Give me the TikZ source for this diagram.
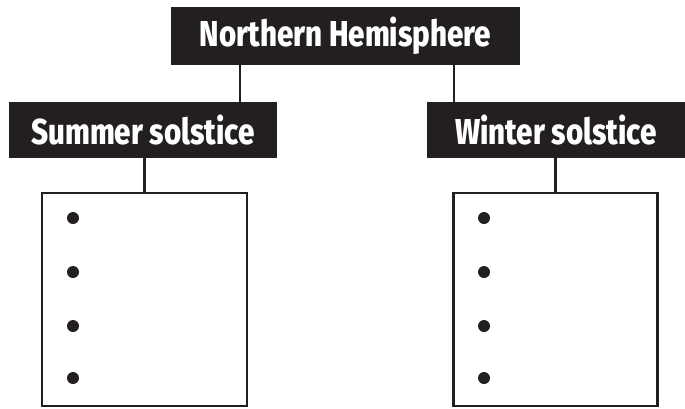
\documentclass[tikz,border=0pt]{standalone}
\usepackage{fontspec}
\newfontfamily\headfont{Fira Sans ExtraBold}[FakeStretch=0.82]
\definecolor{ink}{HTML}{231F20}
\begin{document}
\begin{tikzpicture}[x=1pt,y=-1pt,
  headbox/.style={fill=ink, text=white, inner sep=0pt, anchor=center,
    font=\headfont\fontsize{36}{40}\selectfont},
  listbox/.style={draw=ink, line width=2.4pt, fill=white, inner sep=0pt},
  link/.style={draw=ink, line width=2.4pt},
  bullet/.style={circle, fill=ink, inner sep=0pt, minimum size=12pt}]
\useasboundingbox (0,0) rectangle (685,408);

% title and the two season headings
\node[headbox, minimum width=349pt, minimum height=58pt] (top) at (345.5,36) {Northern Hemisphere};
\node[headbox, minimum width=268pt, minimum height=56pt] (summer) at (143,130) {Summer solstice};
\node[headbox, minimum width=258pt, minimum height=56pt] (winter) at (556,130) {Winter solstice};

% empty bullet lists
\node[listbox, minimum width=205pt, minimum height=213pt] (slist) at (144.5,299.5) {};
\node[listbox, minimum width=204pt, minimum height=213pt] (wlist) at (555.5,299.5) {};

\foreach \y [count=\i] in {218,272,326,378} {
  \node[bullet] (sb\i) at (73,\y) {};
  \node[bullet] (wb\i) at (484,\y) {};
}

% connectors
\draw[link] (top.south -| 240,0) -- (summer.north -| 240,0);
\draw[link] (top.south -| 454,0) -- (winter.north -| 454,0);
\draw[link] (slist.north) -- (slist.north |- summer.south);
\draw[link] (wlist.north) -- (wlist.north |- winter.south);
\end{tikzpicture}
\end{document}
